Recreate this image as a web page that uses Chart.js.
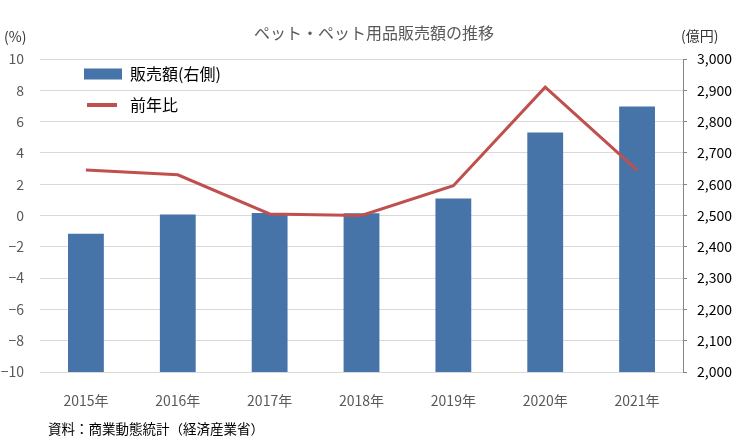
<!DOCTYPE html>
<html>
<head>
<meta charset="utf-8">
<script src="https://cdn.jsdelivr.net/npm/chart.js@4"></script>
<style>
  body { margin: 0; background: #fff; }
  canvas { display: block; }
</style>
</head>
<body>
<canvas id="grafico" width="739" height="448"></canvas>
<script>
// Dados do gráfico
const anos = ['2015年', '2016年', '2017年', '2018年', '2019年', '2020年', '2021年'];
const vendas = [2442, 2503, 2508, 2507, 2554, 2765, 2848];   // 億円 (eixo direito)
const variacao = [2.9, 2.6, 0.1, 0.0, 1.9, 8.2, 2.9];       // % (eixo esquerdo)
const rotulos = ['販売額(右側)', '前年比'];
const titulo = 'ペット・ペット用品販売額の推移';
const fonte = '資料：商業動態統計（経済産業省）';

const FONTE = '"Noto Sans CJK JP", "Noto Sans", sans-serif';

// Textos extras e legenda dentro da área do gráfico
const textosPlugin = {
    id: 'textos',
    afterDraw(chart) {
        const ctx = chart.ctx;
        ctx.save();
        ctx.textBaseline = 'middle';

        ctx.fillStyle = '#595959';
        ctx.font = '16px ' + FONTE;
        ctx.textAlign = 'center';
        ctx.fillText(titulo, 374, 33);

        ctx.textAlign = 'left';
        ctx.fillStyle = '#333';
        ctx.font = '14px ' + FONTE;
        ctx.fillText('(%)', 4, 37);
        ctx.fillText('(億円)', 681, 36);

        ctx.fillStyle = '#000';
        ctx.font = '13.5px ' + FONTE;
        ctx.fillText(fonte, 48, 429);

        // legenda
        ctx.font = '16px ' + FONTE;
        chart.data.datasets.forEach((ds, i) => {
            let y = i === 0 ? 74 : 105;
            if (ds.type === 'bar') {
                ctx.fillStyle = ds.backgroundColor;
                ctx.fillRect(84, y - 5.5, 38, 11);
            } else {
                ctx.strokeStyle = ds.borderColor;
                ctx.lineWidth = 4;
                ctx.beginPath();
                ctx.moveTo(87, y);
                ctx.lineTo(117, y);
                ctx.stroke();
            }
            ctx.fillStyle = '#000';
            ctx.fillText(ds.label, 130, y);
        });
        ctx.restore();
    }
};

let ctx = document.getElementById('grafico').getContext('2d');
let grafico = new Chart(ctx, {
    data: {
        labels: anos,
        datasets: [{
            type: 'bar',
            label: rotulos[0],
            data: vendas,
            yAxisID: 'y1',
            backgroundColor: '#4674a9',
            categoryPercentage: 1,
            barPercentage: 0.39,
            order: 1
        },
        {
            type: 'line',
            label: rotulos[1],
            data: variacao,
            yAxisID: 'y',
            borderColor: '#c0504d',
            borderWidth: 3,
            pointRadius: 0,
            tension: 0,
            order: 0
        }]
    },
    options: {
        responsive: false,
        animation: false,
        devicePixelRatio: 1,
        layout: { padding: { top: 59, left: 0, right: 0, bottom: 0 } },
        plugins: {
            legend: { display: false },
            title: { display: false },
            tooltip: { enabled: false }
        },
        scales: {
            x: {
                grid: { display: false },
                border: { display: true, color: '#d9d9d9' },
                ticks: {
                    color: '#595959',
                    font: { family: FONTE, size: 14 },
                    padding: 12,
                    maxRotation: 0
                },
                afterFit: s => { s.height = 76; }
            },
            y: {
                position: 'left',
                min: -10,
                max: 10,
                grid: { color: '#d9d9d9', drawTicks: false },
                border: { display: false },
                ticks: {
                    stepSize: 2,
                    color: '#595959',
                    font: { family: FONTE, size: 14 },
                    padding: 16,
                    callback: v => String(v).replace('-', '−')
                },
                afterFit: s => { s.width = 40; }
            },
            y1: {
                position: 'right',
                min: 2000,
                max: 3000,
                grid: { drawOnChartArea: false, color: '#868686', tickLength: 4 },
                border: { display: true, color: '#868686' },
                ticks: {
                    stepSize: 100,
                    color: '#000',
                    font: { family: FONTE, size: 14 },
                    padding: 10,
                    callback: v => v.toLocaleString('en-US')
                },
                afterFit: s => { s.width = 56; }
            }
        }
    },
    plugins: [textosPlugin]
});
</script>
</body>
</html>
